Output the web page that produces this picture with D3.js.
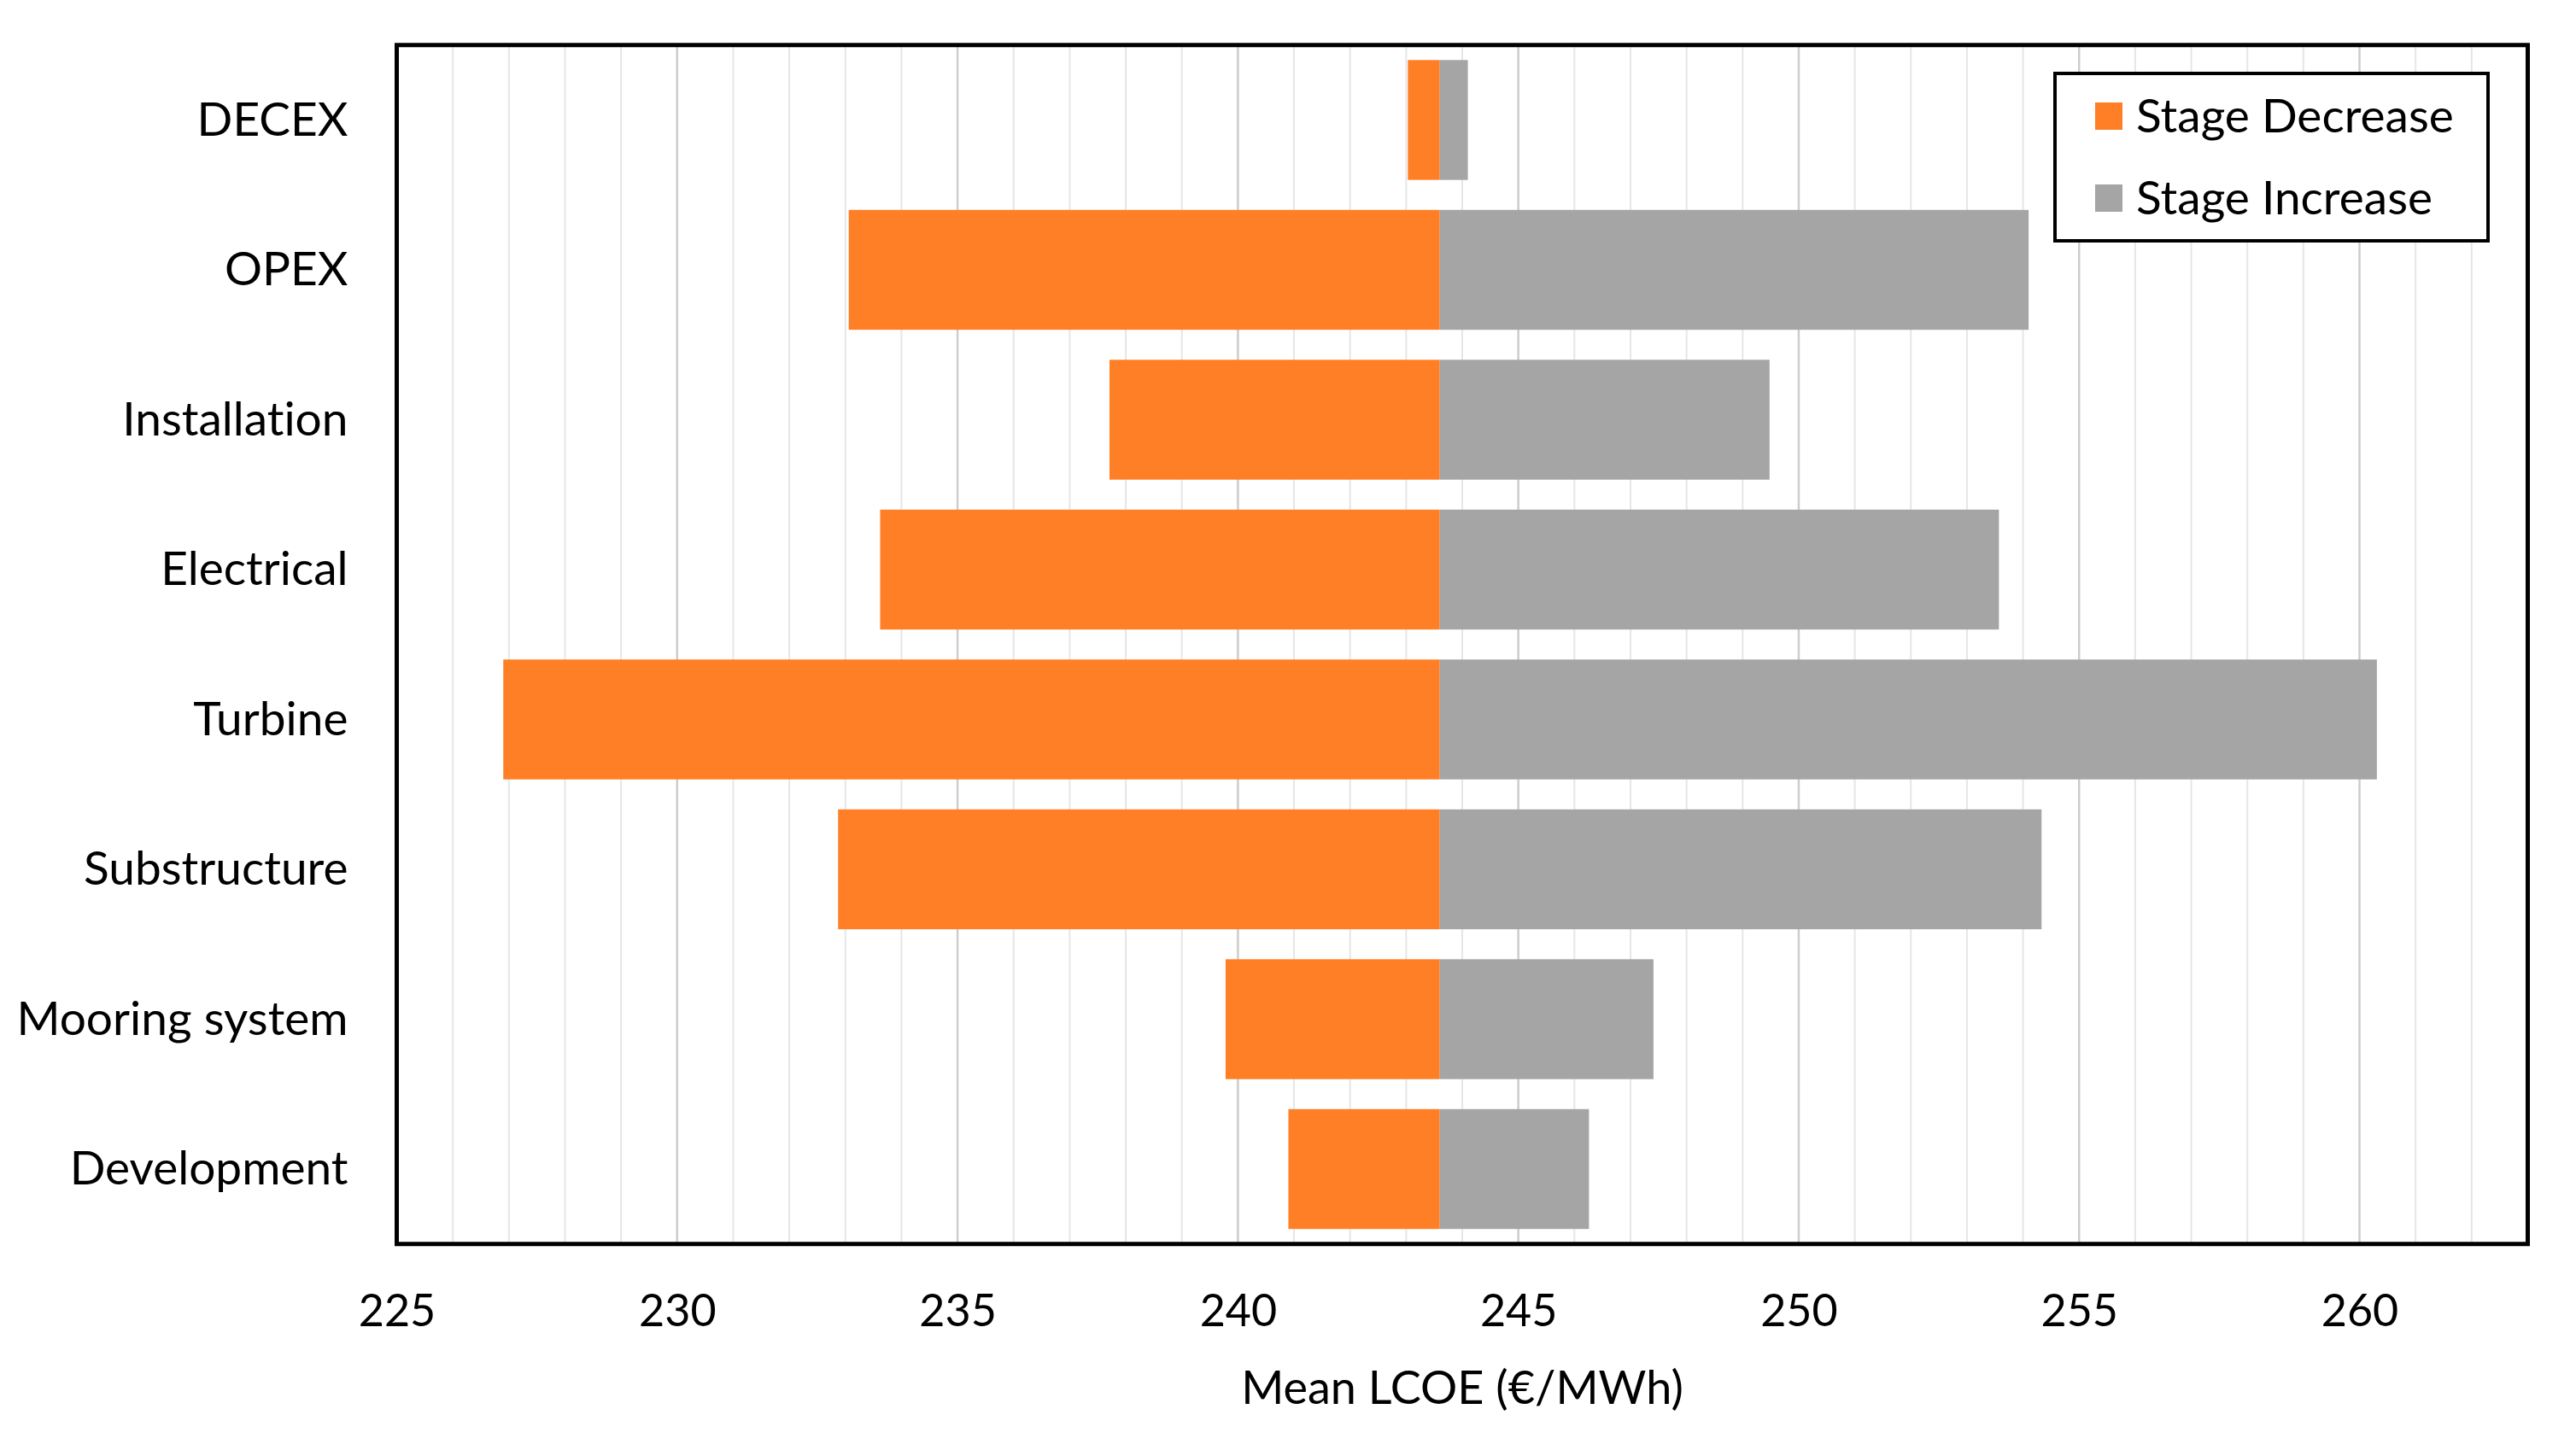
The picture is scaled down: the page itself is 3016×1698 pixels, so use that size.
<!DOCTYPE html>
<html>
<head>
<meta charset="utf-8">
<script src="https://cdn.jsdelivr.net/npm/d3@7"></script>
<style>
  html, body { margin: 0; padding: 0; background: #ffffff; }
  svg { display: block; }
  text { font-family: Lato, "Open Sans", sans-serif; fill: #000; font-variant-ligatures: none; }
</style>
</head>
<body>
<svg id="chart" width="3016" height="1698"></svg>
<script>
// ---- data ----
const categories = ["DECEX", "OPEX", "Installation", "Electrical", "Turbine", "Substructure", "Mooring system", "Development"];
const decreaseValues = [243.03, 233.06, 237.71, 233.62, 226.90, 232.87, 239.78, 240.90]; // LCOE with stage decrease
const increaseValues = [244.10, 254.10, 249.48, 253.57, 260.31, 254.33, 247.41, 246.26]; // LCOE with stage increase
const meanLCOE = 243.6;
const tickValues = [225, 230, 235, 240, 245, 250, 255, 260];
const seriesNames = ["Stage Decrease", "Stage Increase"];
const seriesColors = ["#FF7F27", "#A5A5A5"];
const axisTitle = "Mean LCOE (€/MWh)";
const xDomain = [225, 263];

// ---- layout ----
const svg = d3.select("#chart");
const pLeft = 464.5, pRight = 2959.5, pTop = 52.75, pBottom = 1456.75;

const x = d3.scaleLinear().domain(xDomain).range([pLeft, pRight]);
const y = d3.scaleBand().domain(categories).range([pTop, pBottom]).paddingInner(0.2).paddingOuter(0.1);

// gridlines (every 1 unit, darker every 5)
const gridVals = d3.range(xDomain[0] + 1, xDomain[1]);
svg.append("g").selectAll("line").data(gridVals).join("line")
  .attr("x1", d => x(d)).attr("x2", d => x(d))
  .attr("y1", pTop).attr("y2", pBottom)
  .attr("stroke", d => d % 5 === 0 ? "#cdcdcd" : "#e6e6e6")
  .attr("stroke-width", d => d % 5 === 0 ? 2.5 : 2);

// bars
const rows = categories.map((c, i) => ({ c, lo: decreaseValues[i], hi: increaseValues[i] }));
const gBars = svg.append("g");
gBars.selectAll("rect.dec").data(rows).join("rect").attr("class", "dec")
  .attr("x", d => x(d.lo)).attr("width", d => x(meanLCOE) - x(d.lo))
  .attr("y", d => y(d.c)).attr("height", y.bandwidth())
  .attr("fill", seriesColors[0]);
gBars.selectAll("rect.inc").data(rows).join("rect").attr("class", "inc")
  .attr("x", x(meanLCOE)).attr("width", d => x(d.hi) - x(meanLCOE))
  .attr("y", d => y(d.c)).attr("height", y.bandwidth())
  .attr("fill", seriesColors[1]);

// frame
svg.append("rect")
  .attr("x", pLeft).attr("y", pTop).attr("width", pRight - pLeft).attr("height", pBottom - pTop)
  .attr("fill", "none").attr("stroke", "#000").attr("stroke-width", 5);

// x axis
const xAxis = svg.append("g").attr("transform", `translate(0,${pBottom})`)
  .call(d3.axisBottom(x).tickValues(tickValues).tickSize(0).tickFormat(d3.format("d")));
xAxis.select(".domain").remove();
xAxis.selectAll("text")
  .attr("y", 78).attr("dy", "0.35em")
  .style("font-family", "Lato, sans-serif").style("font-size", "52px").attr("fill", "#000");

// y axis
const yAxis = svg.append("g").attr("transform", `translate(${pLeft},0)`)
  .call(d3.axisLeft(y).tickSize(0).tickPadding(57));
yAxis.select(".domain").remove();
yAxis.selectAll("text")
  .attr("dy", "0.33em")
  .style("font-family", "Lato, sans-serif").style("font-size", "55px").attr("fill", "#000");

// axis title
svg.append("text")
  .attr("x", (pLeft + pRight) / 2).attr("y", 1625).attr("dy", "0.35em")
  .attr("text-anchor", "middle").style("font-size", "54px")
  .text(axisTitle);

// legend
const lg = svg.append("g");
lg.append("rect").attr("x", 2406).attr("y", 86).attr("width", 507).attr("height", 196)
  .attr("fill", "#fff").attr("stroke", "#000").attr("stroke-width", 4);
const items = lg.selectAll("g.item").data(seriesNames).join("g").attr("class", "item")
  .attr("transform", (d, i) => `translate(2453,${136 + i * 96})`);
items.append("rect").attr("x", 0).attr("y", -16).attr("width", 32).attr("height", 32)
  .attr("fill", (d, i) => seriesColors[i]);
items.append("text").attr("x", 48).attr("y", 0).attr("dy", "0.35em")
  .style("font-size", "55px").text(d => d);
</script>
</body>
</html>
